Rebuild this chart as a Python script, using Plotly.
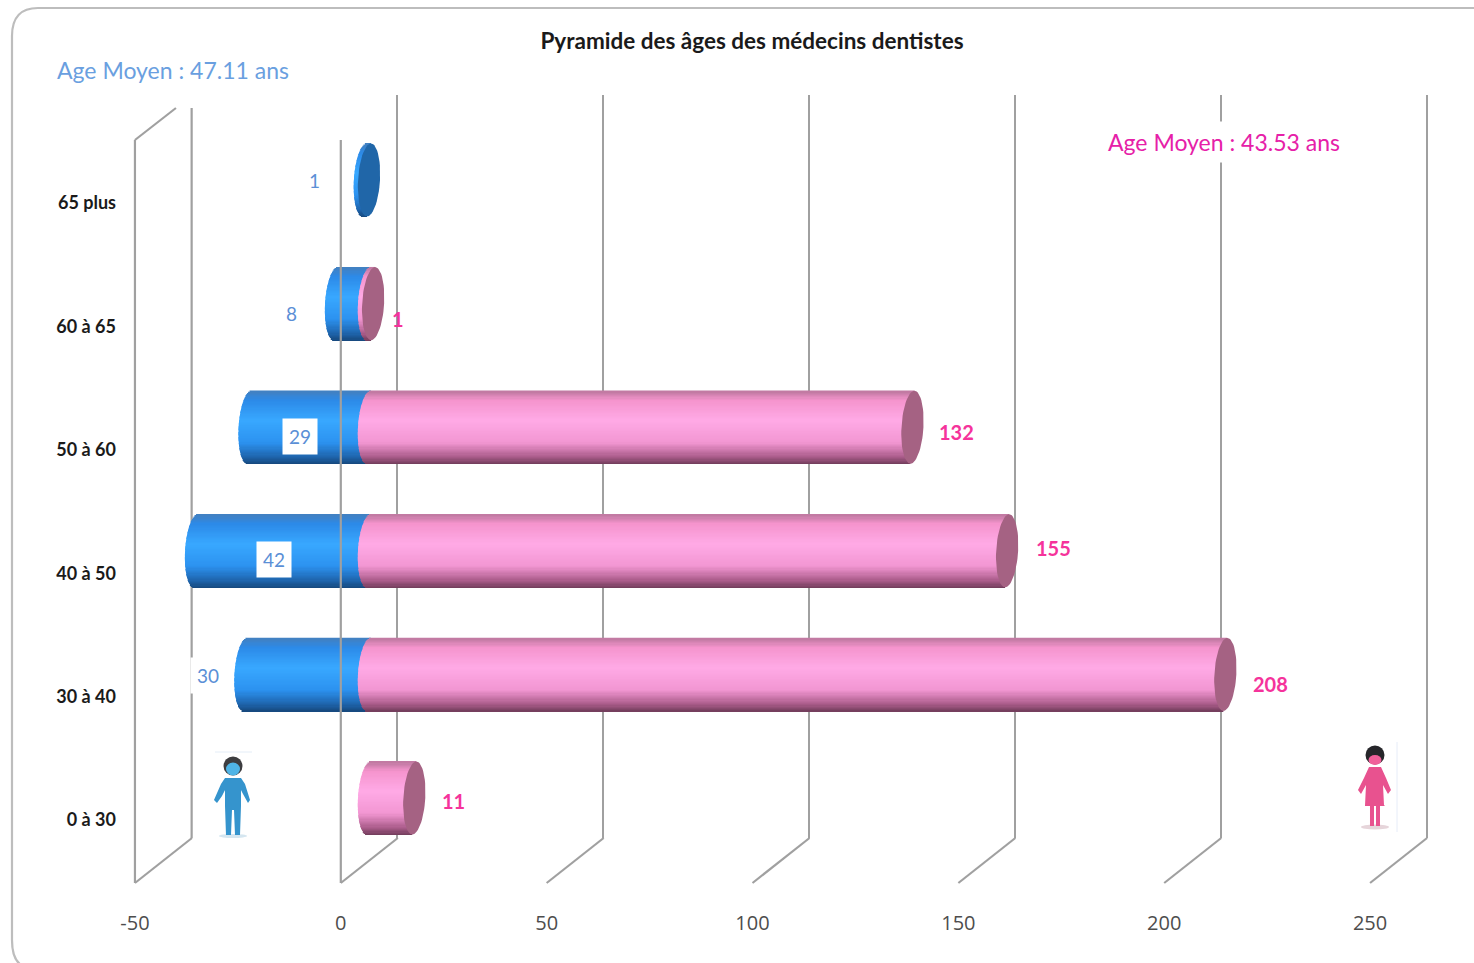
import math
import plotly.graph_objects as go

# ---------- data ----------
categories = ["0 à 30", "30 à 40", "40 à 50", "50 à 60", "60 à 65", "65 plus"]
hommes = [0, 30, 42, 29, 8, 1]
femmes = [11, 208, 155, 132, 1, 0]
x_ticks = [-50, 0, 50, 100, 150, 200, 250]
title_text = "Pyramide des âges des médecins dentistes"
age_hommes = "Age Moyen : 47.11 ans"
age_femmes = "Age Moyen : 43.53 ans"

# ---------- page geometry (pixels) ----------
W, H = 1474, 963
PX_PER_UNIT = 4.117
PX_PER_ROW_BAR = 123.6
PX_PER_ROW_FRONT = 123.4
DEPTH_X, DEPTH_Y = 57, 45          # front wall -> back wall
GRID = "#a0a0a0"
GRID_W = 2.2


def fx(px):
    return px / W


def fy(py):
    return 1 - py / H


def dom_x(px0, px1):
    return [fx(px0), fx(px1)]


def dom_y(top, bottom):
    return [fy(bottom), fy(top)]


def rng_x(px0, px1, zero_px):
    return [(px0 - zero_px) / PX_PER_UNIT, (px1 - zero_px) / PX_PER_UNIT]


def rng_y(top, bottom, zero_px, step):
    return [(zero_px - bottom) / step, (zero_px - top) / step]


PLANE_L, PLANE_R, PLANE_T, PLANE_B = 117, 1474, 90, 909
BAR_X0, BAR_Y0 = 369, 798          # pixel of value 0 / row 0 in the bar plane
FRONT_X0, FRONT_Y0 = 340.8, 820    # pixel of value 0 / row 0 in the front plane
BACK_X0 = 397.5

fig = go.Figure()

# ---------- back wall ----------
back_y_top_left = (838 - 108) / (838 - 95)
fig.add_trace(go.Scatter(x=[x_ticks[0], x_ticks[0]], y=[0, back_y_top_left], mode="lines",
                         line=dict(color=GRID, width=GRID_W), xaxis="x", yaxis="y",
                         hoverinfo="skip", showlegend=False))

# ---------- cylinders (stacked thin bars give the shading) ----------
N_BANDS = 60
RX = 11 / PX_PER_UNIT
RY = 36.5 / PX_PER_ROW_BAR
SKEW = 2 / PX_PER_UNIT

BLUE_STOPS = [(-1.0, (22, 72, 124)), (-0.8, (30, 100, 172)), (-0.4, (44, 146, 240)),
              (0.2, (56, 168, 255)), (0.75, (44, 138, 232)), (1.0, (66, 128, 192))]
PINK_STOPS = [(-1.0, (112, 60, 90)), (-0.8, (170, 92, 138)), (-0.4, (242, 150, 210)),
              (0.2, (255, 170, 230)), (0.75, (245, 148, 205)), (1.0, (190, 120, 160))]


def shade(stops, t):
    for (t0, c0), (t1, c1) in zip(stops, stops[1:]):
        if t <= t1:
            k = (t - t0) / (t1 - t0)
            return "rgb(%d,%d,%d)" % tuple(round(a + (b - a) * k) for a, b in zip(c0, c1))
    return "rgb(%d,%d,%d)" % stops[-1][1]


def add_cylinder(values, sign, stops):
    rows = list(range(len(values)))
    h = 2 * RY / N_BANDS
    for j in range(N_BANDS):
        t = -1 + (j + 0.5) * 2 / N_BANDS
        s = math.sqrt(max(0.0, 1 - t * t))
        left, length = [], []
        for v in values:
            if v == 0:
                left.append(None)
                length.append(None)
            elif sign < 0:
                left.append(-v - RX * s + SKEW * t)
                length.append(v + RX * s)
            else:
                left.append(-RX * s + SKEW * t)
                length.append(v + RX * s)
        fig.add_trace(go.Bar(y=rows, x=length, base=left, orientation="h",
                             width=h * 1.25, offset=t * RY - h * 0.625,
                             marker=dict(color=shade(stops, t), line=dict(width=0)),
                             xaxis="x2", yaxis="y2", hoverinfo="skip", showlegend=False))


def add_caps(centres, rows, color):
    xs, ys = [], []
    for c, r in zip(centres, rows):
        for k in range(61):
            a = 2 * math.pi * k / 60
            xs.append(c + RX * math.cos(a) + SKEW * math.sin(a))
            ys.append(r + RY * math.sin(a))
        xs.append(None)
        ys.append(None)
    fig.add_trace(go.Scatter(x=xs, y=ys, mode="lines", fill="toself", fillcolor=color,
                             line=dict(width=0, color=color), xaxis="x2", yaxis="y2",
                             hoverinfo="skip", showlegend=False))


add_cylinder(hommes, -1, BLUE_STOPS)
# the blue end face only shows where no pink cylinder starts on top of it
blue_face_rows = [i for i, v in enumerate(hommes) if v and not femmes[i]]
add_caps([0 for _ in blue_face_rows], blue_face_rows, "#2066a8")
add_cylinder(femmes, 1, PINK_STOPS)
add_caps([v for v in femmes if v], [i for i, v in enumerate(femmes) if v], "#a56283")

# ---------- front wall and floor lines ----------
wall_b = (FRONT_Y0 - 883) / PX_PER_ROW_FRONT
wall_t = (FRONT_Y0 - 140) / PX_PER_ROW_FRONT
dx_depth = DEPTH_X / PX_PER_UNIT
dy_depth = DEPTH_Y / PX_PER_ROW_FRONT
lx, ly = [], []
for t in x_ticks:
    lx += [t, t + dx_depth, None]
    ly += [wall_b, wall_b + dy_depth, None]
for t in x_ticks[:2]:
    lx += [t, t, None]
    ly += [wall_b, wall_t, None]
lx += [x_ticks[0], x_ticks[0] + 41 / PX_PER_UNIT, None]
ly += [wall_t, wall_t + 32 / PX_PER_ROW_FRONT, None]
fig.add_trace(go.Scatter(x=lx, y=ly, mode="lines", line=dict(color=GRID, width=GRID_W),
                         xaxis="x3", yaxis="y3", hoverinfo="skip", showlegend=False))

# ---------- value labels ----------
BLUE_TXT = "#5b8fd6"
PINK_TXT = "#f5339b"
h_shift = {1: (-50, 0, False), 8: (-45, -10, False), 29: (50, -9, True),
           42: (78, -9, True), 30: (-37, -1, True)}
f_shift = {1: (25, -15), 132: (44, -5), 155: (46, 3), 208: (45, -10), 11: (39, -3)}
annotations = []
for i, v in enumerate(hommes):
    if v:
        sx, sy, boxed = h_shift[v]
        annotations.append(dict(x=-v, y=i, xref="x2", yref="y2", text=str(v), showarrow=False,
                                xshift=sx, yshift=sy,
                                bgcolor="#ffffff" if boxed else None,
                                borderpad=6 if boxed else 0,
                                font=dict(family="Lato", size=19, color=BLUE_TXT)))
for i, v in enumerate(femmes):
    if v:
        sx, sy = f_shift[v]
        annotations.append(dict(x=v, y=i, xref="x2", yref="y2", text="<b>%d</b>" % v,
                                showarrow=False, xshift=sx, yshift=sy,
                                font=dict(family="Lato", size=20, color=PINK_TXT)))
annotations.append(dict(x=fx(55), y=fy(70), xref="paper", yref="paper", xanchor="left",
                        yanchor="middle", text=age_hommes, showarrow=False,
                        font=dict(family="Lato", size=23, color="#6a9fe0")))
annotations.append(dict(x=fx(1224), y=fy(142), xref="paper", yref="paper", xanchor="center",
                        yanchor="middle", text=age_femmes, showarrow=False, bgcolor="#ffffff",
                        borderpad=6, font=dict(family="Lato", size=23, color="#e620a8")))


# ---------- frame and icons (decoration, in page pixels) ----------
def P(x, y):
    return "%.5f,%.5f" % (fx(x), fy(y))


shapes = [dict(type="path", xref="paper", yref="paper", layer="below",
               path="M %s L %s Q %s %s L %s Q %s %s L %s" % (
                   P(1480, 8), P(38, 8), P(12, 8), P(12, 36), P(12, 940), P(12, 968), P(32, 968), P(40, 968)),
               line=dict(color="#bdbdbd", width=2.2))]


def poly(points, color):
    return dict(type="path", xref="paper", yref="paper", layer="above",
                path="M " + " L ".join(P(*p) for p in points) + " Z",
                fillcolor=color, line=dict(width=0))


def oval(cx, cy, rx, ry, color):
    return dict(type="circle", xref="paper", yref="paper", layer="above",
                x0=fx(cx - rx), x1=fx(cx + rx), y0=fy(cy + ry), y1=fy(cy - ry),
                fillcolor=color, line=dict(width=0))


def hline(x0, y0, x1, y1, color):
    return dict(type="line", xref="paper", yref="paper", layer="above",
                x0=fx(x0), x1=fx(x1), y0=fy(y0), y1=fy(y1), line=dict(color=color, width=1))


# man
shapes += [
    hline(215, 752, 252, 752, "#e4edf7"),
    oval(233, 836, 14, 2, "#d5e6f0"),
    oval(233, 766, 9.5, 9.5, "#3d3d40"),
    oval(233, 769, 7, 6.5, "#4fb4e6"),
    poly([(225, 778), (241, 778), (245, 784), (250, 800), (248, 803), (243, 794), (241, 790), (241, 806),
          (240, 835), (235, 835), (234, 810), (232, 810), (231, 835), (226, 835), (225, 806), (225, 790),
          (222, 796), (217, 803), (214, 800), (221, 784)], "#3594cd"),
]
# woman
shapes += [
    hline(1397, 742, 1397, 832, "#e6ecf8"),
    oval(1375, 827, 14, 2.5, "#e6d5da"),
    oval(1375, 755, 9.5, 9.5, "#26262a"),
    oval(1375, 760, 6.5, 5, "#f0609a"),
    poly([(1369, 767), (1381, 767), (1386, 778), (1391, 790), (1388, 794), (1383, 785), (1384, 805),
          (1385, 806), (1380, 806), (1380, 826), (1376, 826), (1376, 806), (1374, 806), (1374, 826),
          (1370, 826), (1370, 806), (1365, 806), (1366, 785), (1361, 794), (1358, 790), (1364, 778)],
         "#e8528f"),
]

# ---------- layout ----------
noax = dict(showgrid=False, zeroline=False, showline=False, showticklabels=False, ticks="")
back_r0 = -52
back_r1 = 252
fig.update_layout(
    width=W, height=H, margin=dict(l=0, r=0, t=0, b=0), autosize=False,
    paper_bgcolor="white", plot_bgcolor="rgba(0,0,0,0)",
    barmode="overlay", showlegend=False,
    title=dict(text="<b>%s</b>" % title_text, x=752 / W, xanchor="center", y=fy(41), yanchor="middle",
               font=dict(family="Lato", size=22.5, color="#1a1a1a")),
    annotations=annotations, shapes=shapes,
    # back wall: real gridlines
    xaxis=dict(domain=dom_x(BACK_X0 + back_r0 * PX_PER_UNIT, BACK_X0 + back_r1 * PX_PER_UNIT),
               range=[back_r0, back_r1], tickmode="array", tickvals=x_ticks[1:], showticklabels=False,
               ticks="", showgrid=True, gridcolor=GRID, gridwidth=GRID_W, zeroline=False, showline=False,
               anchor="y"),
    yaxis=dict(domain=dom_y(95, 838), range=[0, 1], anchor="x", **noax),
    # bar plane
    xaxis2=dict(domain=dom_x(PLANE_L, PLANE_R), range=rng_x(PLANE_L, PLANE_R, BAR_X0), anchor="y2", **noax),
    yaxis2=dict(domain=dom_y(PLANE_T, PLANE_B),
                range=rng_y(PLANE_T, PLANE_B, BAR_Y0, PX_PER_ROW_BAR), anchor="x2", **noax),
    # front plane: carries the axis labels
    xaxis3=dict(overlaying="x2", anchor="y3", range=rng_x(PLANE_L, PLANE_R, FRONT_X0),
                tickmode="array", tickvals=x_ticks, ticktext=[str(t) for t in x_ticks],
                ticks="", showgrid=False, zeroline=False,
                showline=False, tickfont=dict(family="Open Sans", size=20, color="#4d4d4d")),
    yaxis3=dict(overlaying="y2", anchor="x3", side="left",
                range=rng_y(PLANE_T, PLANE_B, FRONT_Y0, PX_PER_ROW_FRONT),
                tickmode="array", tickvals=list(range(len(categories))), ticktext=["<b>%s</b>" % c for c in categories],
                ticks="", showgrid=False, zeroline=False, showline=False,
                tickfont=dict(family="Lato", size=18, color="#1a1a1a")),
)

fig.write_html("out.html", config={"displayModeBar": False},
               post_script="document.body.style.margin='0';")
